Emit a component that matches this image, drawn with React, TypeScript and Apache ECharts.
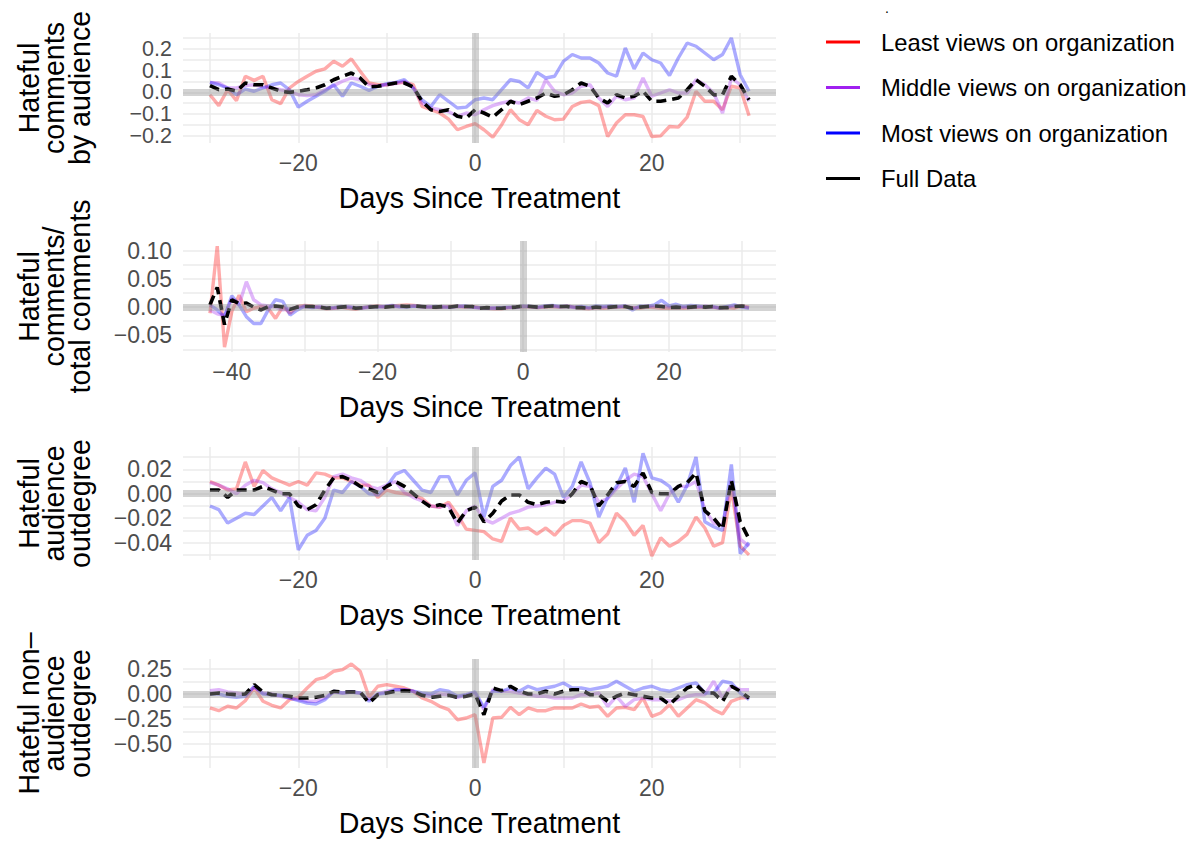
import React, { useEffect, useRef } from "react";
import * as echarts from "echarts";

const FONT = "'Liberation Sans', Arial, Helvetica, sans-serif";

const SERIES_NAMES = [
  "Least views on organization",
  "Middle views on organization",
  "Most views on organization",
  "Full Data",
];
const SERIES_COLORS = ["#FF0000", "#A020F0", "#0000FF", "#000000"];

const range = (a: number, b: number) => {
  const out: number[] = [];
  for (let d = a; d <= b; d++) out.push(d);
  return out;
};
// days since treatment (categories on the x axes)
const DAYS_MAIN = range(-30, 31);
const DAYS_LONG = range(-43, 31);

// Panel 1: Hateful comments by audience
const p1Least = [
  -0.011, -0.061, 0.012, -0.038, 0.074, 0.055, 0.074, -0.034, -0.052, 0.02,
  0.05, 0.074, 0.097, 0.108, 0.143, 0.12, 0.154, 0.097, 0.043, 0.035,
  0.035, 0.043, 0.046, 0.035, -0.065, -0.08, -0.095, -0.123, -0.172, -0.157,
  -0.144, -0.172, -0.206, -0.15, -0.08, -0.126, -0.149, -0.083, -0.11, -0.126,
  -0.123, -0.065, -0.046, -0.041, -0.061, -0.203, -0.141, -0.103, -0.103, -0.111,
  -0.203, -0.2, -0.157, -0.16, -0.114, 0.005, -0.041, -0.041, -0.08, 0.028,
  0.02, -0.108,
];
const p1Middle = [
  0.046, 0.043, 0.02, 0.02, 0.031, 0.035, 0.025, 0.02, 0.012, 0.005,
  -0.011, -0.015, -0.011, 0.012, 0.031, 0.051, 0.066, 0.058, 0.035, 0.028,
  0.035, 0.04, 0.051, 0.02, -0.049, -0.072, -0.08, -0.088, -0.111, -0.095,
  -0.103, -0.08, -0.061, -0.049, -0.041, -0.049, -0.026, -0.037, 0.058, 0.005,
  -0.011, -0.003, 0.028, 0.035, -0.026, -0.065, -0.018, -0.034, -0.026, 0.066,
  -0.018, -0.003, 0.012, -0.003, -0.003, 0.058, 0.035, -0.003, -0.095, 0.066,
  0.035, -0.041,
];
const p1Most = [
  0.046, 0.035, 0.02, -0.011, 0.015, 0.005, 0.02, 0.035, 0.043, 0.012,
  -0.068, -0.041, -0.018, 0.005, 0.035, -0.018, 0.043, 0.028, 0.009, 0.028,
  0.04, 0.046, 0.058, 0.02, -0.034, -0.065, -0.011, -0.041, -0.072, -0.068,
  -0.034, -0.026, -0.034, 0.012, 0.058, 0.05, 0.02, 0.092, 0.066, 0.074,
  0.143, 0.174, 0.158, 0.158, 0.135, 0.089, 0.074, 0.204, 0.108, 0.181,
  0.15, 0.135, 0.077, 0.158, 0.227, 0.212, 0.181, 0.15, 0.174, 0.25,
  0.081, 0.005,
];
const p1Full = [
  0.031, 0.012, 0.015, 0.005, 0.043, 0.035, 0.035, 0.02, 0.005, 0.0,
  0.005, 0.012, 0.02, 0.035, 0.058, 0.074, 0.089, 0.066, 0.025, 0.028,
  0.035, 0.043, 0.043, 0.025, -0.041, -0.08, -0.088, -0.08, -0.11, -0.118,
  -0.08, -0.095, -0.114, -0.08, -0.041, -0.057, -0.041, -0.026, -0.003, -0.018,
  -0.011, 0.012, 0.043, 0.028, -0.026, -0.049, -0.011, -0.026, -0.018, 0.005,
  -0.041, -0.041, -0.034, -0.026, 0.012, 0.058, 0.028, -0.011, -0.011, 0.074,
  0.035, -0.034,
];

// Panel 2: Hateful comments / total comments (days -43..31)
const p2Least = [
  -0.011, 0.108, -0.071, -0.008, 0.021, -0.008, -0.002, 0.001, -0.002, -0.02,
  0.001, -0.011, 0.001, 0.003,
  0.002, -0.001, -0.003, -0.002, 0.0, -0.002, -0.004, -0.001, 0.001, 0.002,
  0.0, 0.002, 0.003, 0.004, 0.003, 0.001, 0.0, -0.001, 0.0, 0.001,
  0.001, 0.0, 0.001, -0.001, -0.002, -0.003, -0.003, -0.001, 0.0,
  0.001, 0.0, -0.001, 0.0, 0.001, 0.0, 0.002, 0.0, -0.002, -0.003,
  -0.001, -0.002, -0.001, 0.0, 0.0, -0.001, -0.002, 0.0, -0.001, -0.002,
  -0.002, -0.001, -0.002, -0.001, 0.0, -0.001, 0.0, -0.002, -0.001, -0.002,
  0.002, 0.0,
];
const p2Middle = [
  -0.005, -0.012, -0.015, 0.015, 0.004, 0.045, 0.013, 0.004, 0.002, 0.0,
  -0.005, -0.003, 0.0, 0.001,
  0.0, 0.001, -0.001, -0.002, 0.0, 0.001, -0.001, -0.002, 0.0, 0.001,
  0.001, 0.002, 0.0, 0.001, 0.002, 0.0, 0.001, 0.0, 0.001, -0.001,
  0.002, 0.001, 0.0, -0.002, -0.002, -0.001, -0.002, -0.001, -0.001,
  0.001, 0.001, -0.001, 0.001, 0.002, 0.0, 0.001, -0.001, 0.0, -0.002,
  -0.001, 0.0, 0.001, 0.0, 0.002, -0.001, 0.0, 0.002, 0.001, 0.002,
  0.0, -0.001, 0.0, -0.001, 0.0, 0.002, 0.0, -0.001, 0.0, 0.002,
  0.001, -0.001,
];
const p2Most = [
  0.004, -0.005, -0.017, 0.02, 0.004, -0.017, -0.029, -0.029, -0.005, 0.013,
  0.01, -0.014, -0.005, 0.002,
  -0.001, 0.0, -0.002, -0.001, 0.001, 0.0, -0.002, -0.001, 0.001, 0.0,
  0.001, 0.003, 0.001, 0.0, 0.002, 0.001, 0.0, 0.001, 0.0, 0.0,
  0.001, 0.002, 0.0, -0.001, -0.002, -0.002, -0.001, 0.0, 0.0,
  0.002, 0.001, 0.0, 0.002, 0.003, 0.001, 0.002, 0.0, 0.001, -0.001,
  0.002, 0.001, 0.002, 0.001, 0.002, -0.005, 0.002, 0.001, 0.004, 0.012,
  0.002, 0.005, 0.001, 0.003, 0.002, 0.0, 0.001, -0.002, 0.001, 0.004,
  0.0, -0.002,
];
const p2Full = [
  0.004, 0.035, -0.031, 0.013, 0.006, 0.007, 0.0, -0.005, 0.001, 0.002,
  0.0, -0.004, 0.0, 0.001,
  0.001, 0.0, -0.002, -0.001, 0.0, 0.001, -0.002, -0.001, 0.0, 0.001,
  0.0, 0.001, 0.002, 0.001, 0.002, 0.001, 0.0, 0.0, 0.001, 0.0,
  0.002, 0.001, 0.001, -0.002, -0.001, -0.002, -0.002, -0.001, 0.0,
  0.002, 0.001, 0.0, 0.001, 0.002, 0.001, 0.001, -0.001, -0.001, -0.002,
  0.0, -0.001, 0.0, 0.001, 0.001, -0.002, 0.0, 0.001, 0.002, 0.001,
  -0.001, 0.0, -0.001, 0.0, 0.001, 0.0, 0.001, -0.001, -0.001, 0.001,
  0.002, 0.001,
];

// Panel 3: Hateful audience outdegree
const p3Least = [
  0.01, 0.007, 0.003, 0.004, 0.026, 0.006, 0.019, 0.013, 0.01, 0.007,
  0.01, 0.007, 0.017, 0.016, 0.013, 0.013, 0.01, 0.007, 0.007, -0.003,
  0.003, 0.001, 0.0, -0.001, -0.004, -0.01, -0.011, -0.007, -0.017, -0.029,
  -0.03, -0.031, -0.037, -0.039, -0.02, -0.029, -0.028, -0.033, -0.028, -0.034,
  -0.026, -0.022, -0.022, -0.024, -0.04, -0.033, -0.016, -0.023, -0.034, -0.026,
  -0.051, -0.036, -0.043, -0.039, -0.033, -0.019, -0.028, -0.043, -0.04, 0.004,
  -0.043, -0.05,
];
const p3Middle = [
  0.009, 0.007, 0.004, 0.0, 0.007, 0.011, 0.009, 0.004, 0.001, -0.003,
  -0.007, -0.013, -0.014, -0.003, 0.014, 0.016, 0.013, 0.011, 0.006, 0.004,
  0.007, 0.01, 0.001, -0.003, -0.006, -0.01, -0.011, -0.009, -0.026, -0.014,
  -0.01, -0.021, -0.024, -0.02, -0.016, -0.014, -0.011, -0.01, -0.009, -0.007,
  -0.006, 0.0, 0.007, 0.006, -0.007, -0.004, 0.004, 0.011, 0.016, 0.014,
  0.0, -0.014, 0.0, 0.006, 0.006, 0.01, -0.013, -0.024, -0.026, 0.011,
  -0.037, -0.043,
];
const p3Most = [
  -0.01, -0.013, -0.024, -0.02, -0.016, -0.017, -0.01, -0.003, -0.014, -0.003,
  -0.046, -0.034, -0.03, -0.02, 0.003, 0.001, 0.01, 0.006, 0.0, -0.001,
  0.006, 0.016, 0.019, 0.011, 0.003, 0.001, 0.014, 0.014, -0.001, 0.011,
  0.017, -0.019, 0.006, 0.011, 0.023, 0.03, 0.004, 0.013, 0.021, 0.016,
  -0.003, 0.006, 0.026, 0.009, -0.019, -0.003, 0.006, 0.021, -0.007, 0.033,
  0.013, 0.011, 0.006, -0.007, 0.007, 0.03, -0.023, -0.027, -0.03, 0.024,
  -0.049, -0.04,
];
const p3Full = [
  0.003, 0.003, -0.003, 0.003, 0.003, 0.003, 0.006, 0.003, 0.0, 0.0,
  -0.01, -0.013, -0.009, 0.003, 0.013, 0.014, 0.011, 0.006, 0.004, 0.001,
  0.006, 0.01, 0.006, 0.0, -0.006, -0.011, -0.009, -0.011, -0.024, -0.014,
  -0.011, -0.023, -0.016, -0.006, -0.001, -0.001, -0.007, -0.009, -0.007, -0.006,
  -0.007, 0.0, 0.01, 0.007, -0.01, -0.001, 0.009, 0.01, 0.006, 0.017,
  0.001, 0.0, 0.0, 0.006, 0.009, 0.017, -0.014, -0.02, -0.029, 0.011,
  -0.023, -0.037,
];

// Panel 4: Hateful non-audience outdegree
const p4Least = [
  -0.14, -0.167, -0.123, -0.14, -0.067, 0.06, -0.073, -0.113, -0.14, -0.057,
  -0.033, 0.06, 0.143, 0.167, 0.227, 0.243, 0.3, 0.227, -0.03, 0.077,
  0.093, 0.077, 0.06, 0.027, -0.04, -0.073, -0.123, -0.157, -0.257, -0.24,
  -0.207, -0.69, -0.24, -0.233, -0.133, -0.207, -0.14, -0.167, -0.167, -0.14,
  -0.14, -0.14, -0.1, -0.133, -0.123, -0.223, -0.14, -0.133, -0.157, -0.04,
  -0.223, -0.19, -0.107, -0.223, -0.14, -0.057, -0.09, -0.157, -0.2, -0.073,
  -0.04, -0.033,
];
const p4Middle = [
  0.033, 0.043, 0.02, 0.01, -0.007, 0.067, 0.01, 0.0, -0.023, -0.04,
  -0.057, -0.073, -0.073, -0.04, 0.02, 0.01, 0.02, 0.01, -0.057, 0.0,
  0.027, 0.043, 0.043, 0.027, -0.007, -0.023, 0.0, -0.007, -0.033, -0.013,
  0.01, -0.157, 0.043, 0.027, 0.027, 0.01, -0.007, -0.023, -0.023, -0.04,
  -0.04, -0.04, -0.007, -0.007, 0.01, -0.123, -0.023, -0.123, -0.057, -0.04,
  -0.057, -0.057, -0.073, -0.057, -0.023, -0.007, -0.007, 0.127, -0.04, 0.077,
  0.043, 0.043,
];
const p4Most = [
  0.0, 0.0, -0.023, -0.033, -0.023, 0.077, 0.0, -0.007, -0.013, -0.04,
  -0.067, -0.09, -0.1, -0.057, 0.027, 0.01, 0.02, 0.01, -0.073, 0.0,
  0.01, 0.043, 0.043, 0.027, 0.01, 0.0, 0.043, 0.027, -0.023, -0.007,
  0.02, -0.133, 0.027, 0.027, 0.06, 0.027, 0.077, 0.043, 0.06, 0.077,
  0.11, 0.06, 0.06, 0.043, 0.06, 0.077, 0.127, 0.077, 0.027, 0.06,
  0.077, 0.043, 0.027, 0.06, 0.093, 0.11, 0.01, 0.01, 0.127, 0.11,
  0.01, -0.057,
];
const p4Full = [
  0.0, 0.01, 0.0, -0.007, 0.0, 0.093, 0.02, -0.007, -0.013, -0.023,
  -0.04, -0.04, -0.033, -0.013, 0.027, 0.02, 0.02, 0.02, -0.09, -0.007,
  0.01, 0.027, 0.033, 0.027, -0.013, -0.033, -0.023, -0.013, -0.033, -0.023,
  0.0, -0.207, 0.06, 0.033, 0.077, 0.027, 0.0, 0.0, 0.027, 0.0,
  0.027, 0.043, 0.043, -0.007, -0.007, -0.073, -0.023, 0.01, -0.007, -0.023,
  -0.04, -0.04, -0.107, -0.023, 0.06, 0.093, 0.01, 0.01, -0.073, 0.077,
  0.027, -0.04,
];

// axis ticks / labels
const X_GRID_MAIN = [-30, -20, -10, 0, 10, 20, 30];
const X_LABELS_MAIN = [-20, 0, 20];
const X_GRID_LONG = [-40, -30, -20, -10, 0, 10, 20, 30];
const X_LABELS_LONG = [-40, -20, 0, 20];

const Y1_GRID = [-0.2, -0.15, -0.1, -0.05, 0, 0.05, 0.1, 0.15, 0.2, 0.25];
const Y1_LABELS = [-0.2, 0, 0.2];
const Y1_LABELS_ALT = [-0.1, 0.1];
const Y2_GRID = [-0.075, -0.05, -0.025, 0, 0.025, 0.05, 0.075, 0.1];
const Y2_LABELS = [-0.05, 0, 0.05, 0.1];
const Y3_GRID = [-0.05, -0.04, -0.03, -0.02, -0.01, 0, 0.01, 0.02, 0.03];
const Y3_LABELS = [-0.04, -0.02, 0, 0.02];
const Y4_GRID = [-0.625, -0.5, -0.375, -0.25, -0.125, 0, 0.125, 0.25];
const Y4_LABELS = [-0.5, -0.25, 0, 0.25];

const Y_TITLES = [
  "Hateful\ncomments\nby audience",
  "Hateful\ncomments/\ntotal comments",
  "Hateful\naudience\noutdegree",
  "Hateful non–\naudience\noutdegree",
];
const X_TITLE = "Days Since Treatment";

const minusFmt = (v: number, dec: number) => {
  const s = Math.abs(v).toFixed(dec);
  return v < -1e-9 ? "\u2212" + s : s;
};

const PANELS = [
  {
    days: DAYS_MAIN, values: [p1Least, p1Middle, p1Most, p1Full],
    xMin: -33.05, xMax: 34.05, xGrid: X_GRID_MAIN, xLabels: X_LABELS_MAIN,
    yMin: -0.233, yMax: 0.273, yGrid: Y1_GRID, yLabels: Y1_LABELS, dec: 1, yFont: 21.5,
    top: 33, height: 110,
  },
  {
    days: DAYS_LONG, values: [p2Least, p2Middle, p2Most, p2Full],
    xMin: -46.7, xMax: 34.7, xGrid: X_GRID_LONG, xLabels: X_LABELS_LONG,
    yMin: -0.0795, yMax: 0.117, yGrid: Y2_GRID, yLabels: Y2_LABELS, dec: 2, yFont: 23,
    top: 241, height: 111,
  },
  {
    days: DAYS_MAIN, values: [p3Least, p3Middle, p3Most, p3Full],
    xMin: -33.05, xMax: 34.05, xGrid: X_GRID_MAIN, xLabels: X_LABELS_MAIN,
    yMin: -0.0542, yMax: 0.0382, yGrid: Y3_GRID, yLabels: Y3_LABELS, dec: 2, yFont: 23,
    top: 447, height: 113,
  },
  {
    days: DAYS_MAIN, values: [p4Least, p4Middle, p4Most, p4Full],
    xMin: -33.05, xMax: 34.05, xGrid: X_GRID_MAIN, xLabels: X_LABELS_MAIN,
    yMin: -0.7395, yMax: 0.3495, yGrid: Y4_GRID, yLabels: Y4_LABELS, dec: 2, yFont: 23,
    top: 659, height: 109,
  },
];

export default function App() {
  const ref = useRef<HTMLDivElement>(null);
  useEffect(() => {
    if (!ref.current) return;
    const chart = echarts.init(ref.current, null, { renderer: "svg" });

    const grid = PANELS.map((p) => ({ left: 183, width: 593, top: p.top, height: p.height }));
    const splitLine = { show: true, lineStyle: { color: "#EBEBEB", width: 1.5 } };
    const labelBase = {
      fontSize: 23,
      color: "#4D4D4D",
      fontFamily: FONT,
      hideOverlap: false,
      interval: 0,
    };

    const xAxis = PANELS.map((p, i) => ({
      type: "value",
      gridIndex: i,
      min: p.xMin,
      max: p.xMax,
      axisLine: { show: false },
      axisTick: { show: false, customValues: p.xGrid },
      splitLine,
      axisLabel: {
        ...labelBase,
        customValues: p.xLabels,
        formatter: (v: number) => minusFmt(v, 0),
        lineHeight: 20,
        margin: 10,
      },
      name: X_TITLE,
      nameLocation: "middle",
      nameGap: 40,
      nameTextStyle: { fontSize: 28.6, color: "#000", fontFamily: FONT },
    }));

    const yAxis: any[] = PANELS.map((p, i) => ({
      type: "value",
      gridIndex: i,
      min: p.yMin,
      max: p.yMax,
      axisLine: { show: false },
      axisTick: { show: false, customValues: p.yGrid },
      splitLine,
      axisLabel: {
        ...labelBase,
        fontSize: p.yFont,
        customValues: p.yLabels,
        formatter: (v: number) => minusFmt(v, p.dec),
        lineHeight: 16,
        margin: 11,
        showMinLabel: true,
        showMaxLabel: true,
      },
      name: Y_TITLES[i],
      nameLocation: "middle",
      nameRotate: 90,
      nameGap: 90,
      nameTextStyle: { fontSize: 28.6, lineHeight: 25.7, color: "#000", fontFamily: FONT, align: "center" },
    }));
    // second label axis on panel 1 for the in-between labels (same scale)
    yAxis.push({
      type: "value",
      gridIndex: 0,
      position: "left",
      min: PANELS[0].yMin,
      max: PANELS[0].yMax,
      axisLine: { show: false },
      axisTick: { show: false, customValues: Y1_LABELS_ALT },
      splitLine: { show: false },
      axisLabel: {
        ...labelBase,
        fontSize: PANELS[0].yFont,
        customValues: Y1_LABELS_ALT,
        formatter: (v: number) => minusFmt(v, 1),
        lineHeight: 16,
        margin: 11,
      },
    });

    const series: any[] = [];
    PANELS.forEach((p, i) => {
      series.push({
        type: "line",
        name: "zero-" + i,
        xAxisIndex: i,
        yAxisIndex: i,
        data: [],
        z: 1,
        silent: true,
        markLine: {
          silent: true,
          symbol: ["none", "none"],
          label: { show: false },
          lineStyle: { color: "rgba(150,150,150,0.42)", width: 7, type: "solid" },
          emphasis: { disabled: true },
          data: [{ xAxis: 0 }, { yAxis: 0 }],
        },
      });
      p.values.forEach((vals, k) => {
        series.push({
          type: "line",
          name: SERIES_NAMES[k],
          xAxisIndex: i,
          yAxisIndex: i,
          data: p.days.map((d, j) => [d, vals[j]]),
          showSymbol: false,
          symbol: "none",
          silent: true,
          z: k === 3 ? 4 : 3,
          itemStyle: { color: SERIES_COLORS[k] },
          lineStyle: {
            color: SERIES_COLORS[k],
            width: k === 3 ? 3.6 : 3.4,
            opacity: k === 3 ? 1 : 0.33,
            type: k === 3 ? [10, 6] : "solid",
          },
          emphasis: { disabled: true },
        });
      });
    });

    chart.setOption({
      animation: false,
      backgroundColor: "#FFFFFF",
      textStyle: { fontFamily: FONT },
      title: {
        text: ".",
        left: 880,
        top: 0,
        textStyle: { fontSize: 14, lineHeight: 6, fontWeight: "normal", color: "#000", fontFamily: FONT },
      },
      legend: {
        orient: "vertical",
        left: 826,
        top: 30,
        padding: 0,
        itemWidth: 34,
        itemHeight: 3,
        itemGap: 21.5,
        icon: "rect",
        selectedMode: false,
        textStyle: { fontSize: 23.8, color: "#000", fontFamily: FONT, padding: [0, 0, 0, 16], lineHeight: 24 },
        data: SERIES_NAMES.map((n, k) => ({
          name: n,
          itemStyle: { color: SERIES_COLORS[k], opacity: 1 },
        })),
      },
      grid,
      xAxis,
      yAxis,
      series,
    });

    return () => chart.dispose();
  }, []);

  return (
    <div
      ref={ref}
      style={{ position: "absolute", left: 0, top: 0, width: 1198, height: 844, background: "#fff" }}
    />
  );
}
